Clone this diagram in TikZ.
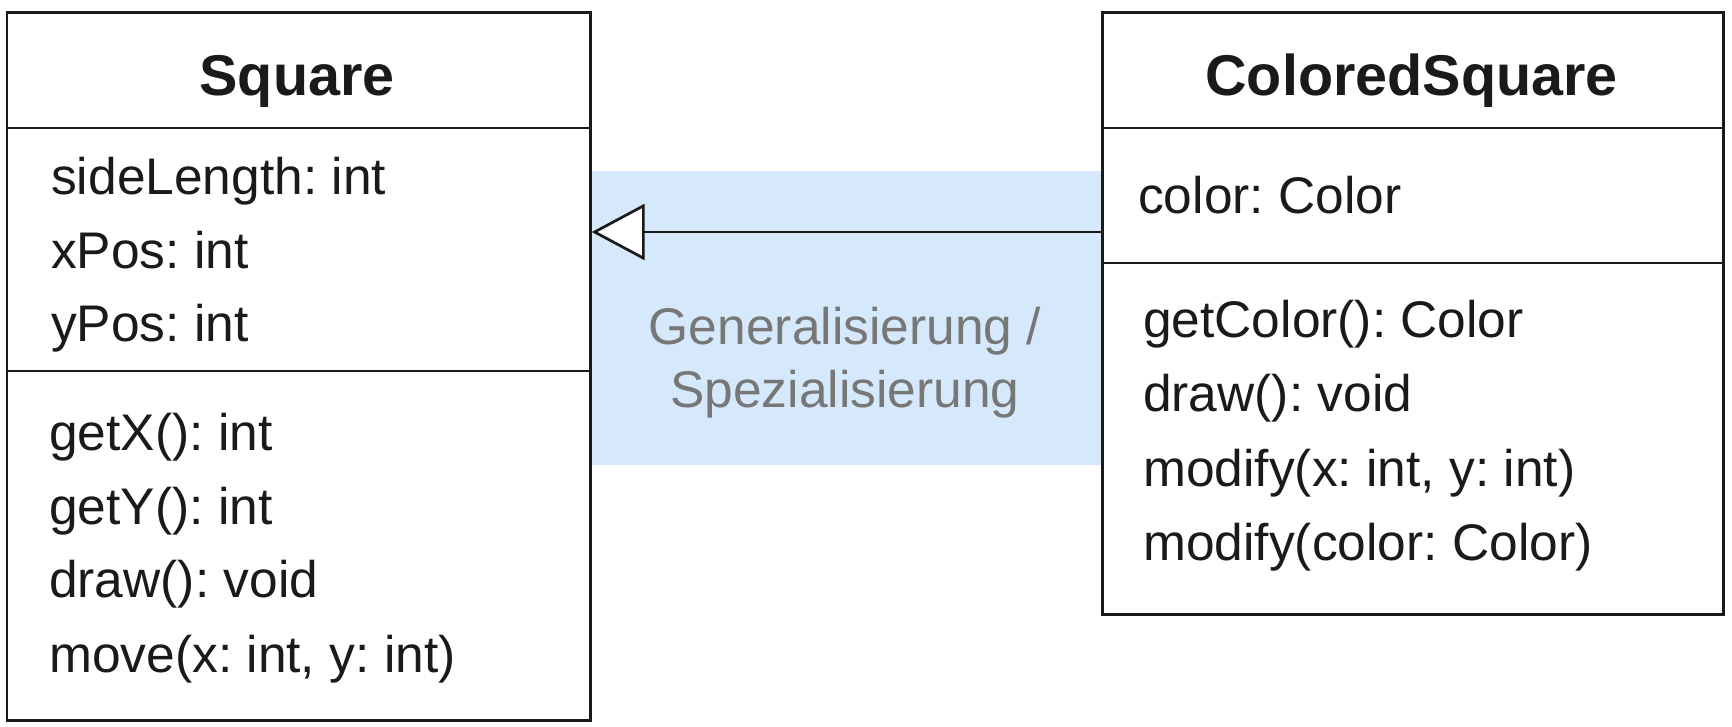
\documentclass[tikz,border=0pt]{standalone}
\usepackage{fontspec}
\setmainfont{Liberation Sans}
\usetikzlibrary{arrows.meta}
\definecolor{genblue}{HTML}{D6E9FC}
\definecolor{labelgray}{HTML}{777777}
\definecolor{ink}{HTML}{1A1A1A}
\frenchspacing
\begin{document}
\begin{tikzpicture}[x=1pt,y=-1pt,
  classbox/.style={draw=ink, line width=2.7pt, inner sep=0pt, anchor=north west},
  divider/.style={draw=ink, line width=2.7pt},
  classtitle/.style={font=\fontsize{57.5}{60}\selectfont\bfseries, text=ink, anchor=base, inner sep=0pt},
  member/.style={font=\fontsize{51.5}{55}\selectfont, text=ink, anchor=base west, inner sep=0pt},
  genlabel/.style={font=\fontsize{51.5}{63}\selectfont, text=labelgray, align=center, inner sep=0pt},
  genarrow/.style={draw=ink, line width=2.7pt, -{Triangle[fill=white, length=53pt, width=56pt]}}]
\useasboundingbox (0,0) rectangle (1732,726);
% highlight area
\node[fill=genblue, minimum width=512pt, minimum height=294pt, inner sep=0pt, anchor=north west] (gen) at (589,171) {};
\node[genlabel] (genl) at (845,363) {Generalisierung /\\Spezialisierung};
% Square
\node[classbox, minimum width=583.5pt, minimum height=708pt] (sq) at (5.5,11) {};
\draw[divider] (sq.west |- 0,128) -- (sq.east |- 0,128);
\draw[divider] (sq.west |- 0,371) -- (sq.east |- 0,371);
\node[classtitle] (sqt) at (297,95.5) {Square};
\node[member] (a1) at (51,194) {sideLength: int};
\node[member] (a2) at (51,268) {xPos: int};
\node[member] (a3) at (51,341) {yPos: int};
\node[member] (m1) at (49,450) {getX(): int};
\node[member] (m2) at (49,524) {getY(): int};
\node[member] (m3) at (49,597) {draw(): void};
\node[member] (m4) at (49,672) {move(x: int, y: int)};
% ColoredSquare
\node[classbox, minimum width=621pt, minimum height=602pt] (csq) at (1101,11) {};
\draw[divider] (csq.west |- 0,128) -- (csq.east |- 0,128);
\draw[divider] (csq.west |- 0,263) -- (csq.east |- 0,263);
\node[classtitle] (csqt) at (1411.5,95.5) {ColoredSquare};
\node[member] (b1) at (1138,213) {color: Color};
\node[member] (n1) at (1143,337) {getColor(): Color};
\node[member] (n2) at (1143,411.5) {draw(): void};
\node[member] (n3) at (1143,486) {modify(x: int, y: int)};
\node[member] (n4) at (1143,560.5) {modify(color: Color)};
% generalization
\coordinate (ay) at (0,232);
\draw[genarrow] (csq.west |- ay) -- (sq.east |- ay);
\end{tikzpicture}
\end{document}
